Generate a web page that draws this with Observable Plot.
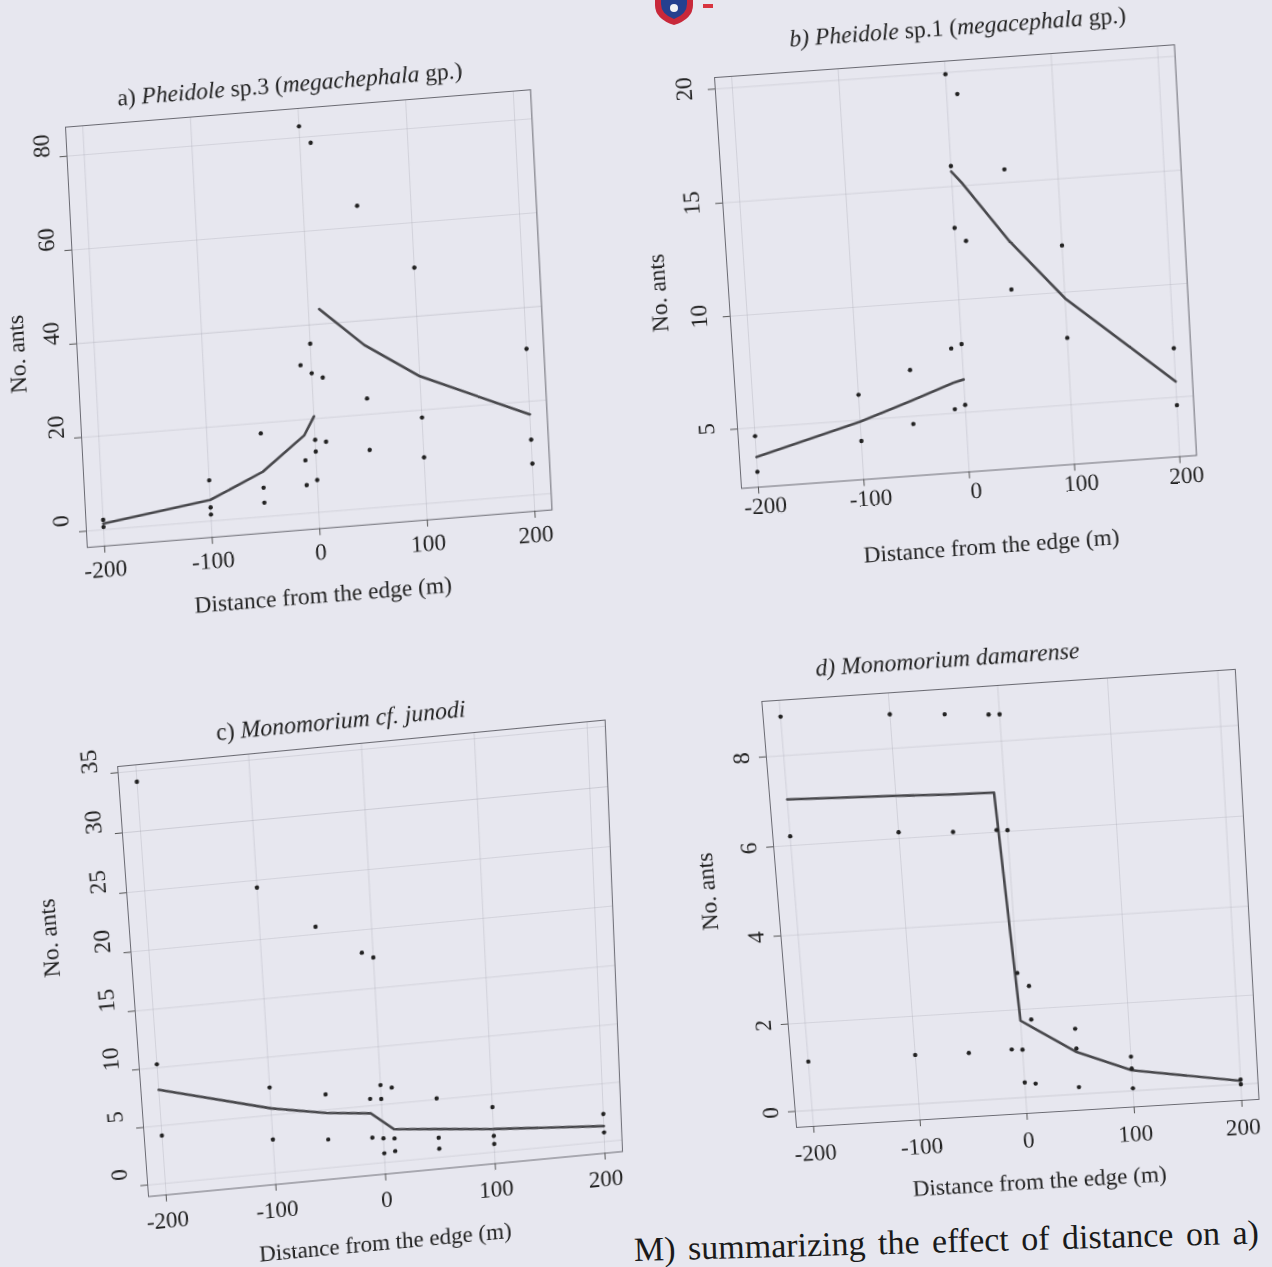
<!DOCTYPE html>
<html><head><meta charset="utf-8">
<script src="https://cdn.jsdelivr.net/npm/d3@7"></script>
<script src="https://cdn.jsdelivr.net/npm/@observablehq/plot@0.6"></script>
<style>
html,body{margin:0;padding:0;}
body{background:#e7e7ef;width:1272px;height:1267px;overflow:hidden;position:relative;font-family:"Liberation Serif",serif;}
.panel{position:absolute;left:0;top:0;transform-origin:0 0;overflow:visible;}
#caption{position:absolute;left:634px;top:1230px;font-size:34px;line-height:40px;color:#1a1a1a;white-space:nowrap;transform-origin:0 50%;transform:rotate(-1.6deg);word-spacing:4px;}
#logo{position:absolute;left:652px;top:-8px;}
</style></head><body>
<svg id="logo" width="66" height="34" viewBox="0 0 66 34">
  <path d="M3 2 H41 V13 Q41 27 22 33 Q3 27 3 13 Z" fill="#c8283a"/>
  <path d="M9 2 H35 V12 Q35 22 22 27 Q9 22 9 12 Z" fill="#25408f"/>
  <circle cx="22" cy="16" r="4" fill="#f2f2f6"/>
  <rect x="51" y="12" width="10" height="4" fill="#d8343f"/>
</svg>
<div id="caption">M) summarizing the effect of distance on a)</div>
<script>
// ---------- shared ----------
const xTicks = [-200, -100, 0, 100, 200];

// ---------- a) Pheidole sp.3 ----------
const aDist = [-200,-200,-100,-100,-100,-50,-50,-50,-10,-10,-10,0,0,0,0,0,0,10,10,10,50,50,50,100,100,100,200,200,200];
const aAnts = [2.1,0.6,8.7,2.9,1.4,17.8,6.2,3.0,31.6,11.3,6.0,82.4,36.0,29.7,15.5,13.0,6.9,78.7,28.6,14.9,64.5,23.4,12.4,50.4,18.4,9.9,31.2,11.8,6.7];
const aFitOrchardDist = [-200,-100,-50,-10,0];
const aFitOrchard = [1.3,4.5,9.6,16.6,20.5];
const aFitVegDist = [10,50,100,200];
const aFitVeg = [43.2,34.8,27.2,17.2];
const aYTicks = [0,20,40,60,80];

// ---------- b) Pheidole sp.1 ----------
const bDist = [-200,-200,-100,-100,-50,-50,-10,-10,0,0,0,0,0,10,10,50,50,100,100,200,200];
const bAnts = [4.63,3.04,6.13,4.07,7.06,4.66,7.88,5.18,19.93,15.9,13.18,8.04,5.34,19.03,12.57,15.59,10.29,12.07,7.98,7.18,4.65];
const bFitOrchardDist = [-200,-100,-50,-10,0];
const bFitOrchard = [3.70,4.93,5.70,6.35,6.47];
const bFitVegDist = [0,10,50,100,200];
const bFitVeg = [15.66,15.09,12.47,9.73,5.70];
const bYTicks = [5,10,15,20];

// ---------- c) Monomorium cf. junodi ----------
const cDist = [-200,-200,-200,-100,-100,-100,-50,-50,-50,-10,-10,-10,0,0,0,0,0,10,10,10,50,50,50,100,100,100,200,200];
const cAnts = [34.1,10.3,4.15,24.4,7.4,2.9,20.65,6.35,2.45,18.1,5.6,2.25,17.6,6.7,5.5,2.1,0.8,6.4,2.0,0.9,5.1,1.7,0.75,3.9,1.4,0.7,2.4,0.8];
const cFitDist = [-200,-100,-50,-10,10,50,100,200];
const cFit = [8.1,5.6,4.75,4.35,2.8,2.45,2.0,1.35];
const cYTicks = [0,5,10,15,20,25,30,35];

// ---------- d) Monomorium damarense ----------
const dDist = [-200,-200,-200,-100,-100,-100,-50,-50,-50,-10,-10,-10,0,0,0,0,0,10,10,10,50,50,50,100,100,100,200,200];
const dAnts = [8.86,6.21,1.12,8.75,6.14,1.12,8.67,6.07,1.09,8.60,6.05,1.11,8.59,6.03,1.09,2.83,0.34,2.52,1.76,0.30,1.49,1.04,0.16,0.78,0.51,0.06,0.11,0.0];
const dFitDist = [-200,-100,-50,-10,0,10,50,100,200];
const dFit = [7.03,6.95,6.9,6.88,1.75,1.59,0.96,0.47,0.08];
const dYTicks = [0,2,4,6,8];

const SVGNS = "http://www.w3.org/2000/svg";
const zip = (xs, ys) => xs.map((x, i) => ({x, y: ys[i]}));
const dist = (p, q) => Math.hypot(q[0] - p[0], q[1] - p[1]);

// projective map of the plot frame onto the (slightly warped) scanned page quad
function frameTransform(ml, mt, fw, fh, TL, TR, BR, BL) {
  const [x0, y0] = TL, [x1, y1] = TR, [x2, y2] = BR, [x3, y3] = BL;
  const dx1 = x1 - x2, dx2 = x3 - x2, dx3 = x0 - x1 + x2 - x3;
  const dy1 = y1 - y2, dy2 = y3 - y2, dy3 = y0 - y1 + y2 - y3;
  let a, b, c, d, e, f, g, h;
  if (Math.abs(dx3) < 1e-9 && Math.abs(dy3) < 1e-9) {
    g = 0; h = 0; a = x1 - x0; b = x3 - x0; c = x0; d = y1 - y0; e = y3 - y0; f = y0;
  } else {
    const det = dx1 * dy2 - dx2 * dy1;
    g = (dx3 * dy2 - dx2 * dy3) / det;
    h = (dx1 * dy3 - dx3 * dy1) / det;
    a = x1 - x0 + g * x1; b = x3 - x0 + h * x3; c = x0;
    d = y1 - y0 + g * y1; e = y3 - y0 + h * y3; f = y0;
  }
  const m = [
    a / fw, d / fw, 0, g / fw,
    b / fh, e / fh, 0, h / fh,
    0, 0, 1, 0,
    c - a * ml / fw - b * mt / fh, f - d * ml / fw - e * mt / fh, 0, 1 - g * ml / fw - h * mt / fh
  ];
  return `matrix3d(${m.join(",")})`;
}

function panel(cfg) {
  const ml = 110, mr = 25, mt = 70, mb = 110;
  const [TL, TR, BR, BL] = cfg.corners;
  const fw = (dist(TL, TR) + dist(BL, BR)) / 2;
  const fh = (dist(TL, BL) + dist(TR, BR)) / 2;
  const W = fw + ml + mr, H = fh + mt + mb;
  const FS = 23.5;
  const o = cfg.offsets;
  const marks = [
    Plot.gridX(xTicks, {stroke: "#9a9aa6", strokeOpacity: 0.35, strokeWidth: 0.8}),
    Plot.gridY(cfg.yTicks, {stroke: "#9a9aa6", strokeOpacity: 0.35, strokeWidth: 0.8}),
    Plot.frame({stroke: "#6a6a72", strokeWidth: 1}),
    Plot.axisX(xTicks, {tickSize: 7, tickFormat: () => "", label: null, stroke: "#555"}),
    Plot.axisY(cfg.yTicks, {tickSize: 7, tickFormat: () => "", label: null, stroke: "#555"}),
    Plot.text(xTicks, {x: d => d, frameAnchor: "bottom", dx: o.xlab[0], dy: o.xlab[1], fontSize: FS, fill: "#222", textAnchor: "middle", text: d => String(d)}),
    Plot.text(cfg.yTicks, {y: d => d, frameAnchor: "left", dx: o.ylab[0], dy: o.ylab[1], rotate: -90, fontSize: FS, fill: "#222", textAnchor: "middle", text: d => String(d)}),
    Plot.text(["Distance from the edge (m)"], {frameAnchor: "bottom", dx: o.xTitle[0], dy: o.xTitle[1], fontSize: FS, fill: "#222", textAnchor: "middle"}),
    Plot.text(["No. ants"], {frameAnchor: "left", dx: o.yTitle[0], dy: o.yTitle[1], rotate: -90, fontSize: FS, fill: "#222", textAnchor: "middle"}),
    Plot.text([cfg.titlePlain], {frameAnchor: "top", dx: o.title[0], dy: o.title[1], fontSize: FS, fill: "#222", textAnchor: "middle"}),
    ...cfg.lines.map(l => Plot.line(l, {x: "x", y: "y", stroke: "#48484c", strokeWidth: 2.6})),
    Plot.dot(cfg.points, {x: "x", y: "y", r: 2.2, fill: "#222", stroke: null})
  ];
  const svg = Plot.plot({
    width: W, height: H,
    marginLeft: ml, marginRight: mr, marginTop: mt, marginBottom: mb,
    x: {domain: [-216, 216]},
    y: {domain: cfg.yDomain},
    style: {fontFamily: "'Liberation Serif', 'Times New Roman', serif", fontSize: FS + "px", background: "transparent", overflow: "visible", color: "#222"},
    marks
  });
  // italic parts of the title
  svg.querySelectorAll("text").forEach(t => {
    if (t.textContent === cfg.titlePlain) {
      t.textContent = "";
      t.setAttribute("style", "white-space:pre");
      cfg.titleParts.forEach(([s, it]) => {
        const ts = document.createElementNS(SVGNS, "tspan");
        ts.textContent = s;
        if (it) ts.setAttribute("font-style", "italic");
        t.appendChild(ts);
      });
    }
  });
  svg.classList.add("panel");
  svg.style.transform = frameTransform(ml, mt, fw, fh, TL, TR, BR, BL);
  document.body.appendChild(svg);
}

panel({
  titlePlain: "a) Pheidole sp.3 (megachephala gp.)",
  titleParts: [["a) ", false], ["Pheidole", true], [" sp.3 (", false], ["megachephala", true], [" gp.)", false]],
  points: zip(aDist, aAnts),
  lines: [zip(aFitOrchardDist, aFitOrchard), zip(aFitVegDist, aFitVeg)],
  yDomain: [-3.5, 86.2], yTicks: aYTicks,
  corners: [[65, 126.7], [530, 89.3], [551.5, 509.5], [86.8, 547.1]],
  offsets: {xlab: [0, 31], ylab: [-25, -12], xTitle: [0, 74], yTitle: [-60, 12], title: [-7, -34]}
});
panel({
  titlePlain: "b) Pheidole sp.1 (megacephala gp.)",
  titleParts: [["b) Pheidole", true], [" sp.1 (", false], ["megacephala", true], [" gp.)", false]],
  points: zip(bDist, bAnts),
  lines: [zip(bFitOrchardDist, bFitOrchard), zip(bFitVegDist, bFitVeg)],
  yDomain: [2.35, 20.5], yTicks: bYTicks,
  corners: [[714, 77.1], [1173.9, 44.3], [1196, 455], [741, 488]],
  offsets: {xlab: [6, 27], ylab: [-31, -2], xTitle: [18, 84], yTitle: [-70, 4], title: [15, -42]}
});
panel({
  titlePlain: "c) Monomorium cf. junodi",
  titleParts: [["c) ", false], ["Monomorium cf. junodi", true]],
  points: zip(cDist, cAnts),
  lines: [zip(cFitDist, cFit)],
  yDomain: [-1.0, 35.5], yTicks: cYTicks,
  corners: [[117.1, 766.1], [604.6, 719.6], [622, 1151], [148, 1196]],
  offsets: {xlab: [0, 34], ylab: [-28, -13], xTitle: [-4, 78], yTitle: [-80, -54], title: [-19, -33]}
});
panel({
  titlePlain: "d) Monomorium damarense",
  titleParts: [["d) Monomorium damarense", true]],
  points: zip(dDist, dAnts),
  lines: [zip(dFitDist, dFit)],
  yDomain: [-0.37, 9.22], yTicks: dYTicks,
  corners: [[761.3, 701], [1234.8, 668.9], [1258.5, 1099], [796, 1127]],
  offsets: {xlab: [0, 35], ylab: [-25, 0], xTitle: [8, 78], yTitle: [-70, -30], title: [-48, -38]}
});
</script>
</body></html>
